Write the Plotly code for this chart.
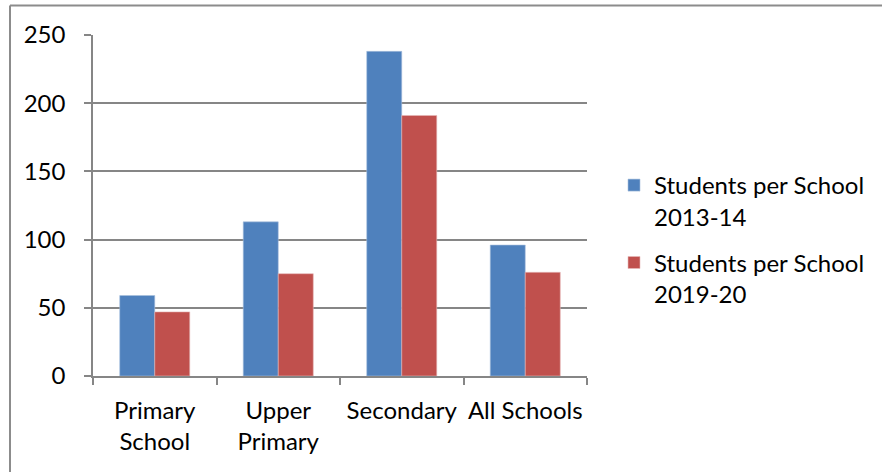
import plotly.graph_objects as go

categories = ["Primary<br>School", "Upper<br>Primary", "Secondary", "All Schools"]
series_2013 = [59, 113, 238, 96]
series_2019 = [47, 75, 191, 76]
name_2013 = "Students per School<br>2013-14"
name_2019 = "Students per School<br>2019-20"
y_ticks = [0, 50, 100, 150, 200, 250]

W, H = 882, 472
L, R, T, B = 93, 587, 35, 376

FONT = dict(family="Lato, Calibri, Carlito, sans-serif", size=24, color="#000000")

fig = go.Figure()
fig.add_trace(go.Bar(x=categories, y=series_2013, name=name_2013,
                     marker=dict(color="#4F81BD", line=dict(color="#A7BFDE", width=0.6)),
                     legendgroup="a"))
fig.add_trace(go.Bar(x=categories, y=series_2019, name=name_2019,
                     marker=dict(color="#C0504D", line=dict(color="#E6B9B8", width=0.6)),
                     legendgroup="b"))

def px2paper_x(px):
    return (px - L) / (R - L)

def px2paper_y(py):
    return (B - py) / (B - T)

# outer chart border (top and left visible)
fig.add_shape(type="line", xref="paper", yref="paper",
              x0=px2paper_x(10), x1=px2paper_x(W + 5), y0=px2paper_y(5.5), y1=px2paper_y(5.5),
              line=dict(color="#8C8C8C", width=2))
fig.add_shape(type="line", xref="paper", yref="paper",
              x0=px2paper_x(10), x1=px2paper_x(10), y0=px2paper_y(5.5), y1=px2paper_y(H + 5),
              line=dict(color="#8C8C8C", width=2))

fig.update_layout(
    width=W, height=H,
    margin=dict(l=L, r=W - R, t=T, b=H - B, pad=0, autoexpand=False),
    paper_bgcolor="white", plot_bgcolor="white",
    font=FONT,
    barmode="group", bargap=0.433, bargroupgap=0,
    showlegend=True,
    legend=dict(xref="container", yref="container", x=614 / W, y=1 - 163 / H,
                xanchor="left", yanchor="top", valign="top",
                traceorder="grouped", tracegroupgap=12,
                font=FONT, bgcolor="rgba(0,0,0,0)"),
    xaxis=dict(showgrid=False, showline=True, linecolor="#868686", linewidth=1.5,
               ticks="outside", tickson="boundaries", ticklen=7, tickcolor="#868686",
               tickwidth=1.5, ticklabelstandoff=12, tickfont=FONT, tickangle=0,
               automargin=False),
    yaxis=dict(range=[0, 250], tickvals=y_ticks, showgrid=True, gridcolor="#868686",
               gridwidth=1.5, showline=True, linecolor="#868686", linewidth=1.5,
               ticks="outside", ticklen=7, tickcolor="#868686", tickwidth=1.5,
               ticklabelstandoff=14, zeroline=False, tickfont=FONT, automargin=False),
)

fig.write_html("out.html")
